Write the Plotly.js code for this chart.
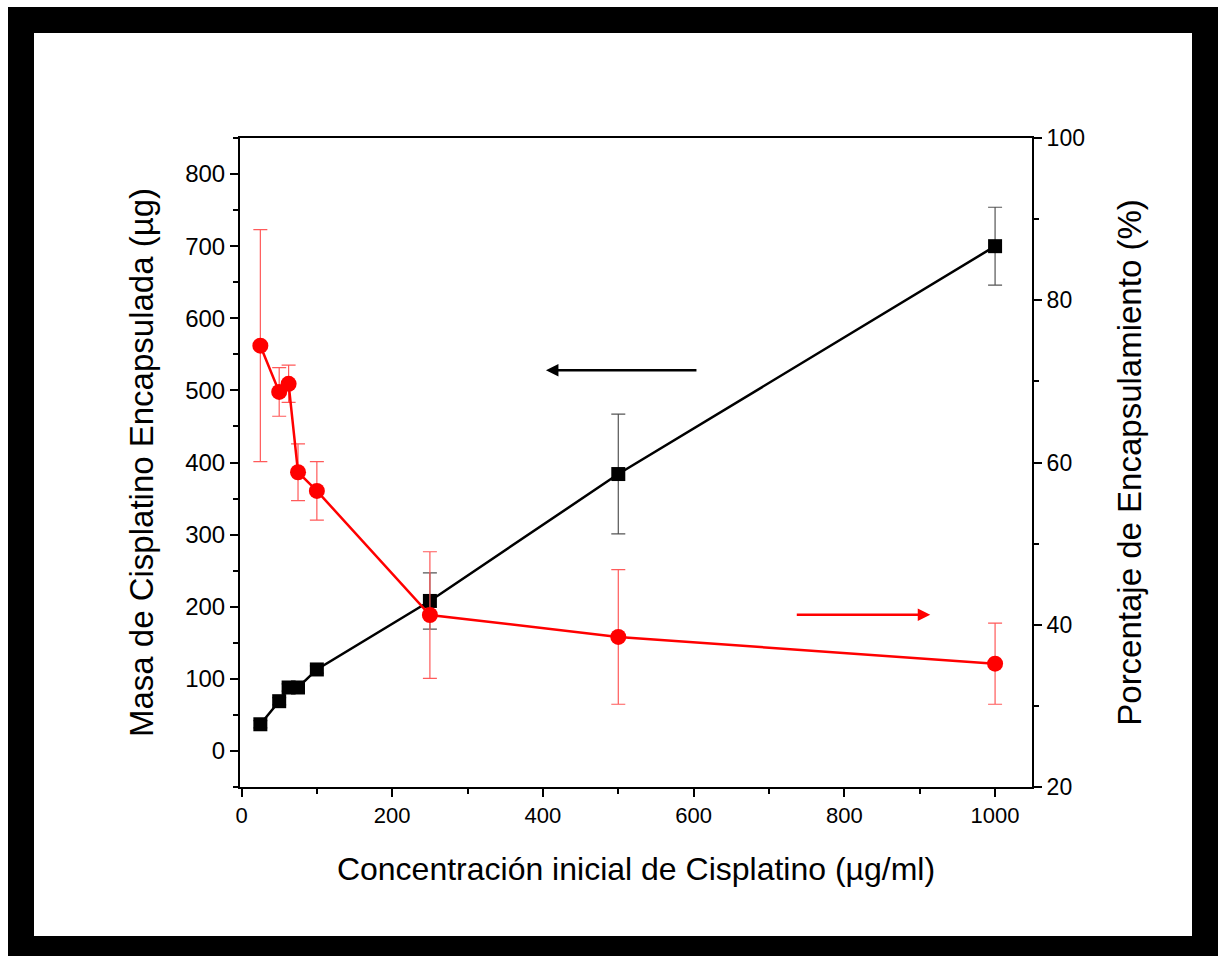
<!DOCTYPE html>
<html>
<head>
<meta charset="utf-8">
<script src="https://cdn.plot.ly/plotly-3.0.1.min.js"></script>
<style>
  html, body { margin: 0; padding: 0; background: #ffffff; width: 1218px; height: 956px; overflow: hidden; }
  #frame { position: absolute; left: 8px; top: 7px; width: 1210px; height: 949px; background: #000000; }
  #plot { position: absolute; left: 34px; top: 33px; width: 1158px; height: 903px; background: #ffffff; }
</style>
</head>
<body>
<div id="frame"></div>
<div id="plot"></div>
<script>
// Concentración inicial de Cisplatino (µg/ml)
const concentracion = [25, 50, 62.5, 75, 100, 250, 500, 1000];
// Masa de Cisplatino Encapsulada (µg) – left axis
const masa = [37, 69, 88, 88, 113, 208, 384, 700];
const masaError = [5, 5, 5, 5, 5, 39, 83, 54];
// Porcentaje de Encapsulamiento (%) – right axis
const porcentaje = [74.4, 68.7, 69.7, 58.8, 56.5, 41.2, 38.5, 35.2];
const porcentajeError = [14.3, 3.0, 2.3, 3.5, 3.6, 7.8, 8.3, 5.0];

const xTitle = 'Concentración inicial de Cisplatino (µg/ml)';
const yTitle = 'Masa de Cisplatino Encapsulada (µg)';
const y2Title = 'Porcentaje de Encapsulamiento (%)';

const FONT = 'Arial, "Liberation Sans", sans-serif';

const traces = [
  {
    x: concentracion, y: masa, yaxis: 'y', type: 'scatter', mode: 'lines+markers',
    line: {color: '#000000', width: 2.5},
    marker: {symbol: 'square', size: 14, color: '#000000'},
    error_y: {type: 'data', array: masaError, visible: true, color: '#555555', thickness: 1.2, width: 7},
    showlegend: false, cliponaxis: false
  },
  {
    x: concentracion, y: porcentaje, yaxis: 'y2', type: 'scatter', mode: 'lines+markers',
    line: {color: '#ff0000', width: 2.5},
    marker: {symbol: 'circle', size: 16, color: '#ff0000'},
    error_y: {type: 'data', array: porcentajeError, visible: true, color: '#ff5a5a', thickness: 1.2, width: 7},
    showlegend: false, cliponaxis: false
  }
];

const layout = {
  width: 1158, height: 903,
  margin: {l: 206, r: 160, t: 105, b: 149, pad: 0},
  paper_bgcolor: '#ffffff', plot_bgcolor: '#ffffff',
  font: {family: FONT, color: '#000000', size: 23},
  showlegend: false,
  xaxis: {
    range: [-2, 1049], tick0: 0, dtick: 200, ticks: 'outside', ticklen: 8, tickwidth: 2, tickcolor: '#000',
    minor: {dtick: 100, ticks: 'outside', ticklen: 5, tickwidth: 2, tickcolor: '#000'},
    showline: true, linewidth: 2, linecolor: '#000', mirror: true,
    showgrid: false, zeroline: false,
    tickfont: {size: 22, family: FONT},
    title: {text: xTitle, font: {size: 32, family: FONT}, standoff: 30},
    automargin: false
  },
  yaxis: {
    range: [-50, 850], tick0: 0, dtick: 100, ticks: 'outside', ticklen: 8, tickwidth: 2, tickcolor: '#000',
    minor: {dtick: 50, ticks: 'outside', ticklen: 5, tickwidth: 2, tickcolor: '#000'},
    showline: true, linewidth: 2, linecolor: '#000',
    showgrid: false, zeroline: false,
    tickfont: {size: 24, family: FONT},
    title: {text: yTitle, font: {size: 33, family: FONT}, standoff: 22},
    automargin: false
  },
  yaxis2: {
    overlaying: 'y', side: 'right', anchor: 'x',
    range: [20, 100], tick0: 20, dtick: 20, ticks: 'outside', ticklen: 8, tickwidth: 2, tickcolor: '#000',
    minor: {dtick: 10, ticks: 'outside', ticklen: 5, tickwidth: 2, tickcolor: '#000'},
    showline: true, linewidth: 2, linecolor: '#000',
    showgrid: false, zeroline: false,
    tickfont: {size: 23, family: FONT},
    title: {text: y2Title, font: {size: 33, family: FONT}, standoff: 34},
    automargin: false
  },
  annotations: [
    {x: 404, y: 528, xref: 'x', yref: 'y', ax: 152, ay: 0, axref: 'pixel', ayref: 'pixel',
     showarrow: true, arrowhead: 2, arrowsize: 1, arrowwidth: 2.5, arrowcolor: '#000000', text: ''},
    {x: 914, y: 189, xref: 'x', yref: 'y', ax: -135, ay: 0, axref: 'pixel', ayref: 'pixel',
     showarrow: true, arrowhead: 2, arrowsize: 1, arrowwidth: 2.5, arrowcolor: '#ff0000', text: ''}
  ]
};

Plotly.newPlot('plot', traces, layout, {displayModeBar: false, staticPlot: true});
</script>
</body>
</html>
